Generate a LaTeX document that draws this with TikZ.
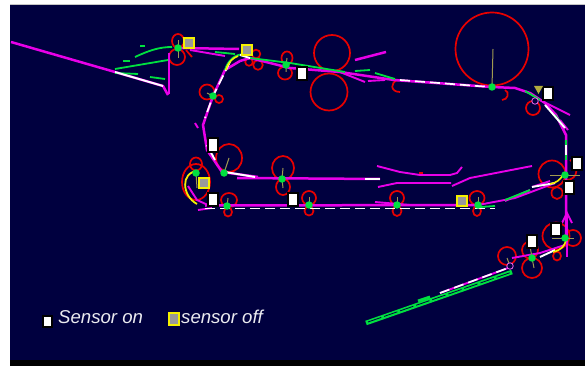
\documentclass[tikz,border=0pt]{standalone}
\usepackage{fontspec}
\setmainfont{Liberation Sans}
\definecolor{navy}{HTML}{00003F}
\definecolor{mag}{HTML}{E800E8}
\definecolor{grn}{HTML}{00E040}
\definecolor{rd}{HTML}{E80000}
\definecolor{olive}{HTML}{A09A50}
\definecolor{ylw}{HTML}{F4F000}
\tikzset{
 bpm/.style={circle,fill=grn,draw=none,minimum size=7.5pt,inner sep=0pt},
 bpmoff/.style={circle,fill=navy,draw=mag!60!white,line width=.8pt,minimum size=6.5pt,inner sep=0pt},
 sensoron/.style={rectangle,fill=white,draw=black,line width=2pt,minimum width=10pt,minimum height=13pt,inner sep=0pt},
 sensoroff/.style={rectangle,fill=gray!80,draw=ylw,line width=1.9pt,minimum width=9.5pt,minimum height=10pt,inner sep=0pt},
 legendtext/.style={text=white!92!navy,font=\itshape\fontsize{18.6}{20}\selectfont,inner sep=0pt,anchor=base west},
 lp/.style={draw=rd,line width=1.7pt},
 mg/.style={draw=mag,line width=1.9pt},
 mgb/.style={draw=mag,line width=2.5pt},
 gr/.style={draw=grn,line width=1.8pt},
 wh/.style={draw=white,line width=1.9pt},
 whd/.style={draw=white,line width=1.7pt,dash pattern=on 10pt off 5pt},
 st/.style={draw=olive,line width=1pt},
}
\begin{document}
\begin{tikzpicture}[x=1pt,y=-1pt]
\useasboundingbox (0,0) rectangle (585,366);
\fill[white] (0,0) rectangle (585,366);
\fill[gray!45] (10,4) rectangle (585,5);
\fill[navy] (10,5) rectangle (585,360);
\fill[black] (10,360) rectangle (585,366);
%% red loops
\draw[lp] (332,53) circle (18);
\draw[lp] (329,92) circle (18.5);
\draw[lp] (492,49) circle (36.5);
\draw[lp] (178,41) ellipse (6 and 7);
\draw[lp] (177,57) ellipse (8 and 8);
\draw[lp] (186,50) -- (192,57);
\draw[lp] (256,54) circle (4.3);
\draw[lp] (249,62) circle (3.8);
\draw[lp] (258,65) circle (4.8);
\draw[lp] (287,58) ellipse (5.5 and 6.5);
\draw[lp] (285,73) ellipse (7 and 6.5);
\draw[lp] (207,92) circle (7.5);
\draw[lp] (219,99) circle (4);
\draw[lp] (533,108) circle (7);
\draw[lp] (229,158) ellipse (13 and 14);
\draw[lp] (196,164) ellipse (6 and 6.5);
\draw[lp] (196,182) ellipse (14 and 18);
\draw[lp] (283,168) ellipse (11 and 12);
\draw[lp] (283,187) ellipse (7 and 8);
\draw[lp] (229,200) ellipse (8 and 7);
\draw[lp] (228,212) ellipse (4 and 4.5);
\draw[lp] (309,198) ellipse (7 and 7);
\draw[lp] (309,211) ellipse (4.5 and 4.5);
\draw[lp] (397,198) ellipse (7 and 7);
\draw[lp] (397,211) ellipse (4.5 and 5);
\draw[lp] (477,198) ellipse (7.5 and 7);
\draw[lp] (477,211) ellipse (4 and 5);
\draw[lp] (552,174) circle (13.5);
\draw[lp] (557,193) ellipse (5.5 and 6);
\draw[lp] (570,160) .. controls (579,165) and (579,180) .. (566,180);
\draw[lp] (507,256) circle (9);
\draw[lp] (532,268) circle (10);
\draw[lp] (530,250) ellipse (8 and 8.5);
\draw[lp] (556,236) circle (13.5);
\draw[lp] (573,238) circle (8);
\draw[lp] (557,256) ellipse (4 and 4.5);
\draw[lp] (398,80) .. controls (390,82) and (390,92) .. (400,92);
\draw[lp] (505,90) .. controls (510,92) and (508,100) .. (502,100);
\fill[rd] (419,172) rectangle (423,176);
%% green band
\draw[draw=grn,line width=4.6pt] (366,323) -- (452,293) -- (512,272);
\draw[draw=navy,line width=.8pt,dash pattern=on 14pt off 3pt] (368,322) -- (512,272);
\draw[draw=grn,line width=3pt] (418,301) -- (430,297);
%% magenta structure
\draw[mgb] (11,42) -- (115,72) -- (163,86) -- (168,95);
\draw[mg] (169,53) -- (169,94);
\draw[mgb] (178,48) -- (239,49);
\draw[mg] (190,50) -- (225,56);
\draw[mgb] (225,70) -- (240,61) -- (250,58) -- (290,68) -- (340,72) -- (394,80) -- (492,87) -- (515,88) -- (530,93) -- (545,103) -- (556,115) -- (566,135) -- (566,240);
\draw[mgb] (225,70) -- (213,96) -- (203,125) -- (207,150) -- (222,172) -- (258,177);
\draw[mgb] (237,178) -- (380,179);
\draw[mg] (188,186) -- (197,200) -- (210,206);
\draw[mgb] (205,205.5) -- (478,205);
\draw[mg] (198,210) -- (212,208);
\draw[mg] (375,202) -- (410,205);
\draw[mg] (478,205) -- (515,198) -- (555,183);
\draw[mgb] (355,60) -- (386,52);
\draw[mg] (368,81) -- (385,80);
\draw[mg] (340,72) -- (365,82);
\draw[mg] (377,166) -- (400,172) -- (420,175) -- (450,175) -- (457,173) -- (462,167);
\draw[mg] (378,187) -- (397,183) -- (451,183);
\draw[mg] (452,186) -- (470,178) -- (532,166);
\draw[mg] (532,187) -- (550,181);
\draw[mg] (505,201) -- (530,190);
\draw[mg] (512,258) -- (540,253) -- (565,245);
\draw[mg] (567,215) -- (567,257);
\draw[mg] (562,223) -- (567,213) -- (572,223);
\draw[mg] (440,293) -- (508,268);
\draw[mg] (540,100) -- (570,115);
\draw[mg] (560,120) -- (568,130);
\draw[mg] (195,123) -- (198,128);
%% green
\draw[gr] (135,57) .. controls (150,50) and (160,47) .. (172,47);
\draw[gr] (115,69) -- (168,60);
\draw[gr] (115,73) -- (138,74);
\draw[gr] (150,77) -- (165,79);
\draw[gr] (140,46) -- (145,46);
\draw[gr] (123,61) -- (130,61);
\draw[gr] (215,52) -- (235,54);
\draw[gr] (250,58) -- (290,63) -- (345,72);
\draw[gr] (355,71) -- (370,70);
\draw[gr] (375,73) -- (395,79);
\draw[gr] (525,91) -- (540,100);
\draw[gr] (225,70) .. controls (228,60) and (235,54) .. (245,54);
\draw[gr] (480,207) -- (495,206);
\draw[gr] (505,200) -- (530,190);
\draw[gr] (566,140) -- (566,160);
\draw[gr] (555,115) -- (562,125);
%% white
\draw[wh] (115,72) -- (163,86);
\draw[wh] (240,55) -- (250,58);
\draw[whd] (230,62) -- (213,96) -- (205,118);
\draw[whd] (400,80) -- (490,87);
\draw[wh] (545,105) -- (565,128);
\draw[wh] (207,145) -- (215,160);
\draw[wh] (225,172) -- (255,177);
\draw[wh] (365,179) -- (380,179);
\draw[whd] (205,208.5) -- (495,208.5);
\draw[whd] (440,293) -- (508,268);
\draw[wh] (532,187) -- (555,183);
\draw[wh] (540,257) -- (555,250);
\draw[wh] (566,145) -- (566,155);
%% yellow arcs
\draw[draw=ylw,line width=1.8pt] (198,171) .. controls (180,172) and (182,196) .. (197,204);
\draw[draw=ylw,line width=1.6pt] (553,252) .. controls (562,250) and (565,245) .. (566,240);
\draw[draw=ylw,line width=1.6pt] (550,184) .. controls (556,183) and (560,180) .. (563,175);
\draw[draw=ylw,line width=1.6pt] (226,70) .. controls (228,62) and (233,58) .. (238,56);
%% stems
\draw[st] (178,48) -- (178,40) (178,48) -- (178,58);
\draw[st] (492,87) -- (493,49);
\draw[st] (286,65) -- (287,58) (286,65) -- (286,72);
\draw[st] (213,96) -- (207,93);
\draw[st] (224,173) -- (229,158);
\draw[st] (196,173) -- (197,188);
\draw[st] (282,179) -- (283,168) (282,179) -- (283,188);
\draw[st] (227,207) -- (228,198);
\draw[st] (309,205) -- (309,197);
\draw[st] (397,205) -- (397,197);
\draw[st] (478,205) -- (478,197);
\draw[st] (550,175) -- (580,175);
\draw[st] (532,258) -- (530,246) (532,258) -- (534,268);
\draw[st] (552,238) -- (574,238);
\draw[st] (510,266) -- (507,258);
%% BPM nodes
\node[bpm] (b1) at (178,48) {};
\node[bpm] (b2) at (286,65) {};
\node[bpm] (b3) at (492,87) {};
\node[bpm] (b4) at (213,96) {};
\node[bpm] (b5) at (196,173) {};
\node[bpm] (b6) at (224,173) {};
\node[bpm] (b7) at (282,179) {};
\node[bpm] (b8) at (227,206) {};
\node[bpm] (b9) at (309,205) {};
\node[bpm] (b10) at (397,205) {};
\node[bpm] (b11) at (478,205) {};
\node[bpm] (b12) at (565,175) {};
\node[bpm] (b13) at (565,238) {};
\node[bpm] (b14) at (532,258) {};
\node[bpmoff] (b15) at (510,266) {};
\node[bpmoff] (b16) at (535,101) {};
%% sensors
\node[sensoroff] (so1) at (189,43) {};
\node[sensoroff] (so2) at (247,50) {};
\node[sensoroff] (so3) at (204,183) {};
\node[sensoroff] (so4) at (462,201) {};
\node[sensoron] (s1) at (302,74) {};
\node[sensoron] (s2) at (548,94) {};
\node[sensoron] (s3) at (213,145) {};
\node[sensoron] (s4) at (213,199) {};
\node[sensoron] (s5) at (293,199) {};
\node[sensoron] (s6) at (577,163) {};
\node[sensoron] (s7) at (569,187) {};
\node[sensoron] (s8) at (556,229) {};
\node[sensoron] (s9) at (532,241) {};
\fill[olive!80!ylw] (534,86) -- (543,86) -- (538.5,94) -- cycle;
%% legend
\node[sensoron,minimum width=9pt,minimum height=11pt] (l1) at (47.5,321) {};
\node[legendtext] (t1) at (58,323) {Sensor on};
\node[sensoroff,minimum width=10pt,minimum height=12pt] (l2) at (174,319) {};
\node[legendtext] (t2) at (181,323) {sensor off};
\end{tikzpicture}
\end{document}
